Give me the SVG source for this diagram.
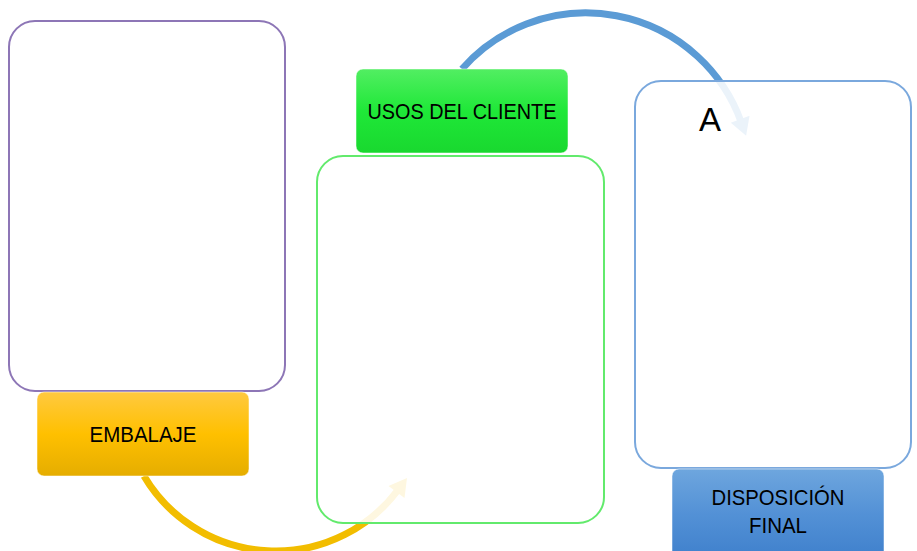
<svg xmlns="http://www.w3.org/2000/svg" width="917" height="551" viewBox="0 0 917 551">
  <defs>
    <linearGradient id="gYellow" x1="0" y1="0" x2="0" y2="1">
      <stop offset="0" stop-color="#ffc940"/>
      <stop offset="0.5" stop-color="#ffc000"/>
      <stop offset="1" stop-color="#e5ad00"/>
    </linearGradient>
    <linearGradient id="gGreen" x1="0" y1="0" x2="0" y2="1">
      <stop offset="0" stop-color="#52ee62"/>
      <stop offset="0.5" stop-color="#1fe838"/>
      <stop offset="1" stop-color="#19d82f"/>
    </linearGradient>
    <linearGradient id="gBlue" x1="0" y1="0" x2="0" y2="1">
      <stop offset="0" stop-color="#6ea6de"/>
      <stop offset="0.5" stop-color="#5391d6"/>
      <stop offset="1" stop-color="#3f80cc"/>
    </linearGradient>
    <marker id="headBlue" markerUnits="userSpaceOnUse" markerWidth="20" markerHeight="20" viewBox="0 -8 14 16" refX="2" refY="0" orient="auto">
      <path d="M0,-8 L14,0 L0,8 Z" fill="#5b9bd5"/>
    </marker>
    <marker id="headYellow" markerUnits="userSpaceOnUse" markerWidth="20" markerHeight="20" viewBox="0 -8 14 16" refX="2" refY="0" orient="auto">
      <path d="M0,-8 L14,0 L0,8 Z" fill="#f2bd00"/>
    </marker>
  </defs>
  <style>
    .panel { fill: #ffffff; fill-opacity: 0.88; stroke-width: 2; }
    .label { stroke: #ffffff; stroke-opacity: 0.5; stroke-width: 1; }
    .txt { font-family: "Liberation Sans", Arial, sans-serif; font-size: 22.5px; fill: #000000; text-anchor: middle; }
    .arc { fill: none; stroke-width: 7; }
  </style>

  <rect width="917" height="551" fill="#ffffff"/>

  <!-- curved connectors, drawn beneath the panels -->
  <g id="connectors">
    <path class="arc" stroke="#5b9bd5" d="M462,69 A165,165 0 0 1 741,121.6" marker-end="url(#headBlue)"/>
    <path class="arc" stroke="#f2bd00" d="M144,476 A153,153 0 0 0 398,490" marker-end="url(#headYellow)"/>
  </g>

  <g id="panel-embalaje">
    <rect class="panel" x="9" y="21" width="276" height="370" rx="26" stroke="#8d76b6"/>
  </g>

  <g id="label-embalaje">
    <rect class="label" x="37" y="392" width="212" height="84" rx="7" fill="url(#gYellow)"/>
    <text class="txt" x="143" y="442" textLength="107" lengthAdjust="spacingAndGlyphs">EMBALAJE</text>
  </g>

  <g id="panel-usos">
    <rect class="panel" x="317" y="156" width="287" height="367" rx="26" stroke="#62ea6c"/>
  </g>

  <g id="label-usos">
    <rect class="label" x="356" y="69" width="212" height="84" rx="7" fill="url(#gGreen)"/>
    <text class="txt" x="462" y="119" textLength="189" lengthAdjust="spacingAndGlyphs">USOS DEL CLIENTE</text>
  </g>

  <g id="panel-disposicion">
    <rect class="panel" x="635" y="81" width="276" height="387" rx="26" stroke="#7aa8dd"/>
    <text x="710" y="131" font-family="Liberation Sans, Arial, sans-serif" font-size="33" text-anchor="middle" fill="#000000">A</text>
  </g>

  <g id="label-disposicion">
    <rect class="label" x="672" y="469" width="212" height="90" rx="7" fill="url(#gBlue)"/>
    <text class="txt" x="778" y="505" textLength="133" lengthAdjust="spacingAndGlyphs">DISPOSICIÓN</text>
    <text class="txt" x="778" y="533" textLength="58" lengthAdjust="spacingAndGlyphs">FINAL</text>
  </g>
</svg>
